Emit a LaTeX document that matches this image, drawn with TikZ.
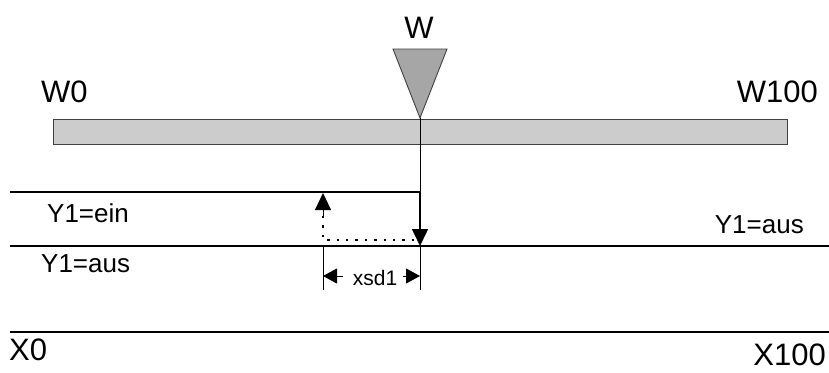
\documentclass[tikz,border=0pt]{standalone}
\usepackage{fontspec}
\setmainfont{Liberation Sans}
\usetikzlibrary{arrows.meta}
\definecolor{barfill}{HTML}{CCCCCC}
\definecolor{trifill}{HTML}{A6A6A6}
\definecolor{edgegray}{HTML}{404040}
\begin{document}
\begin{tikzpicture}[x=1pt,y=-1pt,
  bigtxt/.style={inner sep=0pt,font=\fontsize{31}{36}\selectfont},
  midtxt/.style={inner sep=0pt,font=\fontsize{26}{30}\selectfont},
  smalltxt/.style={inner sep=0pt,font=\fontsize{21}{25}\selectfont},
  mainline/.style={line width=1.5pt,black},
  thinline/.style={line width=0.9pt,black},
  bigtip/.style={-{Triangle[length=17pt,width=16pt]}},
  dimtip/.style={-{Triangle[length=14pt,width=15pt]}},
  dotline/.style={line width=2.4pt,dash pattern=on 2.4pt off 7pt}
]
\useasboundingbox (0,0) rectangle (829,372);
% bar
\node[draw=edgegray,line width=1pt,fill=barfill,inner sep=0pt,minimum width=734pt,minimum height=25pt,anchor=north west] (bar) at (53,119) {};
% pointer triangle
\coordinate (tl) at (393,49);
\coordinate (tr) at (447,49);
\coordinate (apex) at (420,118);
\filldraw[fill=trifill,draw=edgegray,line width=0.9pt] (tl) -- (tr) -- (apex) -- cycle;
% labels
\node[bigtxt,anchor=base] (W) at (419,38) {W};
\node[bigtxt,anchor=base west] (W0) at (41,102) {W0};
\node[bigtxt,anchor=base east] (W100) at (818,102) {W100};
\node[midtxt,anchor=base west] (ein) at (47,222) {Y1=ein};
\node[midtxt,anchor=base west] (ausl) at (41,272) {Y1=aus};
\node[midtxt,anchor=base east] (ausr) at (804,233) {Y1=aus};
\node[bigtxt,anchor=base west] (X0) at (9,360) {X0};
\node[bigtxt,anchor=base east] (X100) at (826,365) {X100};
\node[smalltxt,anchor=base] (xsd) at (375,285) {xsd1};
% coordinates
\coordinate (upL) at (10,192);
\coordinate (upR) at (420,192);
\coordinate (loL) at (10,246);
\coordinate (loR) at (829,246);
\coordinate (swpt) at (420,246);
\coordinate (xL) at (10,332);
\coordinate (xR) at (829,332);
\coordinate (upA) at (323,193);
\coordinate (upB) at (323,216);
\coordinate (dc) at (323,240);
\coordinate (dr) at (416,240);
\coordinate (d1t) at (323,246);
\coordinate (d1b) at (323,290);
\coordinate (d2t) at (420,246);
\coordinate (d2b) at (420,290);
\coordinate (a1) at (323,276);
\coordinate (a1s) at (343,276);
\coordinate (a2) at (420,276);
\coordinate (a2s) at (403,276);
% lines
\draw[thinline] (apex) -- (upR);
\draw[mainline] (upL) -- (upR);
\draw[mainline,bigtip] (upR) -- (swpt);
\draw[mainline] (loL) -- (loR);
\draw[mainline] (xL) -- (xR);
% dotted path
\draw[dotline] (upB) -- (dc) -- (dr);
\draw[line width=1pt,bigtip] (upB) -- (upA);
% dimension
\draw[thinline] (d1t) -- (d1b);
\draw[thinline] (d2t) -- (d2b);
\draw[thinline,dimtip] (a1s) -- (a1);
\draw[thinline,dimtip] (a2s) -- (a2);
\end{tikzpicture}
\end{document}
